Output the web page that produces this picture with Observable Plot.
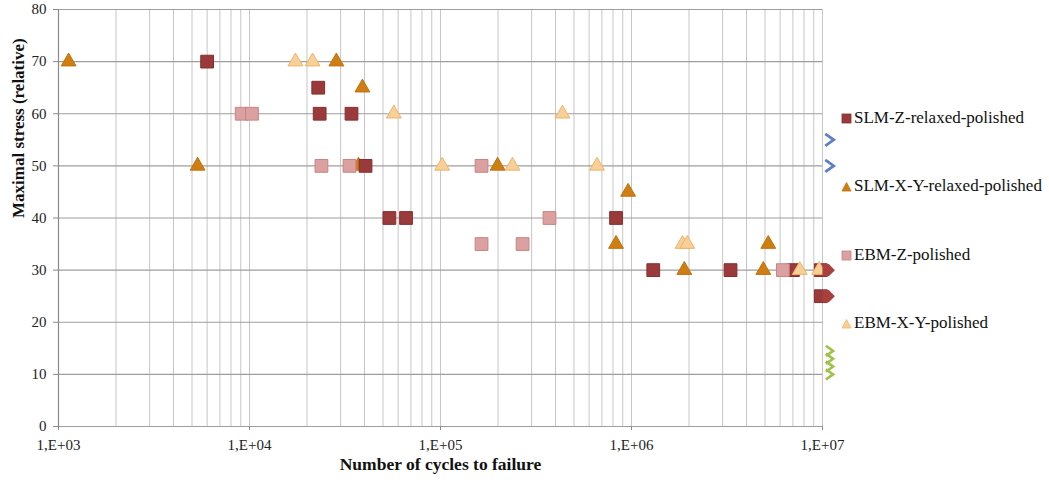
<!DOCTYPE html>
<html>
<head>
<meta charset="utf-8">
<script src="https://cdn.jsdelivr.net/npm/d3@7"></script>
<script src="https://cdn.jsdelivr.net/npm/@observablehq/plot@0.6"></script>
<style>
  html, body { margin: 0; padding: 0; background: #fff; }
  #wrap { position: relative; width: 1049px; height: 483px; font-family: "Liberation Serif", serif; }
  .leg { position: absolute; left: 841px; font-size: 17px; color: #111; white-space: nowrap; display: flex; align-items: center; }
  .leg svg { margin-right: 2px; }
</style>
</head>
<body>
<div id="wrap"></div>
<script>
// ---- Data ----
const seriesNames = ["SLM-Z-relaxed-polished", "SLM-X-Y-relaxed-polished", "EBM-Z-polished", "EBM-X-Y-polished"];

const slmZCycles  = [6.0e3, 2.29e4, 2.33e4, 3.42e4, 4.05e4, 5.4e4, 6.6e4, 8.3e5, 1.3e6, 3.3e6, 7.0e6, 9.8e6, 9.8e6];
const slmZStress  = [70, 65, 60, 60, 50, 40, 40, 40, 30, 30, 30, 30, 25];

const slmXYCycles = [1.13e3, 5.35e3, 2.85e4, 3.9e4, 3.72e4, 1.99e5, 9.6e5, 8.3e5, 5.2e6, 1.89e6, 4.9e6];
const slmXYStress = [70, 50, 70, 65, 50, 50, 45, 35, 35, 30, 30];

const ebmZCycles  = [9.1e3, 1.03e4, 2.38e4, 3.34e4, 1.64e5, 3.72e5, 1.64e5, 2.69e5, 6.2e6];
const ebmZStress  = [60, 60, 50, 50, 50, 40, 35, 35, 30];

const ebmXYCycles = [1.74e4, 2.14e4, 5.7e4, 1.02e5, 2.38e5, 6.6e5, 4.35e5, 1.85e6, 1.96e6, 7.6e6, 9.6e6];
const ebmXYStress = [70, 70, 60, 50, 50, 50, 60, 35, 35, 30, 30];

// run-out markers at 1E+07
const runoutCycles = 1e7;
const redRunoutStress   = [30, 25];
const blueRunoutStress  = [55, 50];
const greenRunoutStress = [10, 11.5, 13, 14.5];

const xTicks = [1e3, 1e4, 1e5, 1e6, 1e7];
const xTickLabels = ["1,E+03", "1,E+04", "1,E+05", "1,E+06", "1,E+07"];
const yTicks = [0, 10, 20, 30, 40, 50, 60, 70, 80];
const xTitle = "Number of cycles to failure";
const yTitle = "Maximal stress (relative)";

// ---- Build tables ----
const zip = (xs, ys) => xs.map((x, i) => ({x, y: ys[i]}));
const slmZ = zip(slmZCycles, slmZStress);
const slmXY = zip(slmXYCycles, slmXYStress);
const ebmZ = zip(ebmZCycles, ebmZStress);
const ebmXY = zip(ebmXYCycles, ebmXYStress);
const runout = ys => ys.map(y => ({x: runoutCycles, y}));

// minor vertical grid: 1..9 x each decade
const gridX = [];
for (let d = 0; d < xTicks.length - 1; d++) for (let k = 1; k <= 9; k++) gridX.push(xTicks[d] * k);
gridX.push(xTicks[xTicks.length - 1]);

const chevron = {
  draw(ctx, size) {
    const s = Math.sqrt(size) / 2;
    ctx.moveTo(-s * 0.7, -s);
    ctx.lineTo(s * 0.7, 0);
    ctx.lineTo(-s * 0.7, s);
  }
};
const arrowRight = {
  draw(ctx, size) {
    const s = Math.sqrt(size) / 2;
    ctx.moveTo(-s, -s);
    ctx.lineTo(0, -s);
    ctx.lineTo(s, 0);
    ctx.lineTo(0, s);
    ctx.lineTo(-s, s);
    ctx.closePath();
  }
};

const colors = {
  slmZ:  {fill: "#9b3a3a", stroke: "#843030"},
  slmXY: {fill: "#cf7e10", stroke: "#c07010"},
  ebmZ:  {fill: "#dba0a0", stroke: "#c98383"},
  ebmXY: {fill: "#f7cf98", stroke: "#f0b468"}
};

const chart = Plot.plot({
  width: 1049,
  height: 483,
  marginLeft: 58,
  marginRight: 227,
  marginTop: 9,
  marginBottom: 57,
  x: {type: "log", domain: [1e3, 1e7]},
  y: {domain: [0, 80]},
  style: {fontFamily: "Liberation Serif, serif", fontSize: "15px", color: "#222", background: "#fff"},
  marks: [
    Plot.ruleX(gridX, {stroke: "#c6c6c6", strokeWidth: 1}),
    Plot.ruleY(yTicks, {stroke: "#9e9e9e", strokeWidth: 1.2}),
    Plot.ruleX([xTicks[0]], {stroke: "#8a8a8a", strokeWidth: 1.2}),
    Plot.axisX({ticks: xTicks, tickFormat: d => xTickLabels[xTicks.indexOf(d)], tickSize: 4, tickPadding: 9, stroke: "#8a8a8a", label: null, fontSize: 15}),
    Plot.axisY({ticks: yTicks, tickSize: 5, tickPadding: 7, stroke: "#8a8a8a", label: null, fontSize: 15}),
    Plot.text([yTitle], {frameAnchor: "left", rotate: -90, dx: -40, fontWeight: "bold", fontSize: 17, fill: "#111"}),
    Plot.text([xTitle], {frameAnchor: "bottom", dy: 43, fontWeight: "bold", fontSize: 17.5, fill: "#111"}),
    // data series
    Plot.dot(slmXY, {x: "x", y: "y", symbol: "triangle", r: 5.5, fill: colors.slmXY.fill, stroke: colors.slmXY.stroke, strokeWidth: 1}),
    Plot.dot(slmZ, {x: "x", y: "y", symbol: "square", r: 7.2, fill: colors.slmZ.fill, stroke: colors.slmZ.stroke, strokeWidth: 1}),
    Plot.dot(ebmZ, {x: "x", y: "y", symbol: "square", r: 7.2, fill: colors.ebmZ.fill, stroke: colors.ebmZ.stroke, strokeWidth: 1}),
    Plot.dot(ebmXY, {x: "x", y: "y", symbol: "triangle", r: 5.5, fill: colors.ebmXY.fill, stroke: colors.ebmXY.stroke, strokeWidth: 1}),
    // run-out markers
    Plot.dot(runout(redRunoutStress), {x: "x", y: "y", symbol: arrowRight, r: 6, dx: 6, fill: "#a8403d", stroke: "#a8403d"}),
    Plot.dot(runout(blueRunoutStress), {x: "x", y: "y", symbol: chevron, r: 6.8, dx: 7, fill: "none", stroke: "#5b80c4", strokeWidth: 2.8}),
    Plot.dot(runout(greenRunoutStress), {x: "x", y: "y", symbol: chevron, r: 5.8, dx: 7, fill: "none", stroke: "#9cc24a", strokeWidth: 2.6})
  ]
});

const wrap = document.getElementById("wrap");
wrap.appendChild(chart);

// ---- Legend ----
const legendItems = [
  {name: seriesNames[0], shape: "square", c: colors.slmZ, top: 108},
  {name: seriesNames[1], shape: "triangle", c: colors.slmXY, top: 176},
  {name: seriesNames[2], shape: "square", c: colors.ebmZ, top: 245},
  {name: seriesNames[3], shape: "triangle", c: colors.ebmXY, top: 313}
];
for (const it of legendItems) {
  const div = document.createElement("div");
  div.className = "leg";
  div.style.top = it.top + "px";
  const shape = it.shape === "square"
    ? `<rect x="1" y="1" width="9" height="9" fill="${it.c.fill}" stroke="${it.c.stroke}" stroke-width="0.8"/>`
    : `<path d="M5.5,1.5 L10,10 L1,10 Z" fill="${it.c.fill}" stroke="${it.c.stroke}" stroke-width="0.8"/>`;
  div.innerHTML = `<svg width="11" height="11" viewBox="0 0 11 11">${shape}</svg><span>${it.name}</span>`;
  wrap.appendChild(div);
}
</script>
</body>
</html>
